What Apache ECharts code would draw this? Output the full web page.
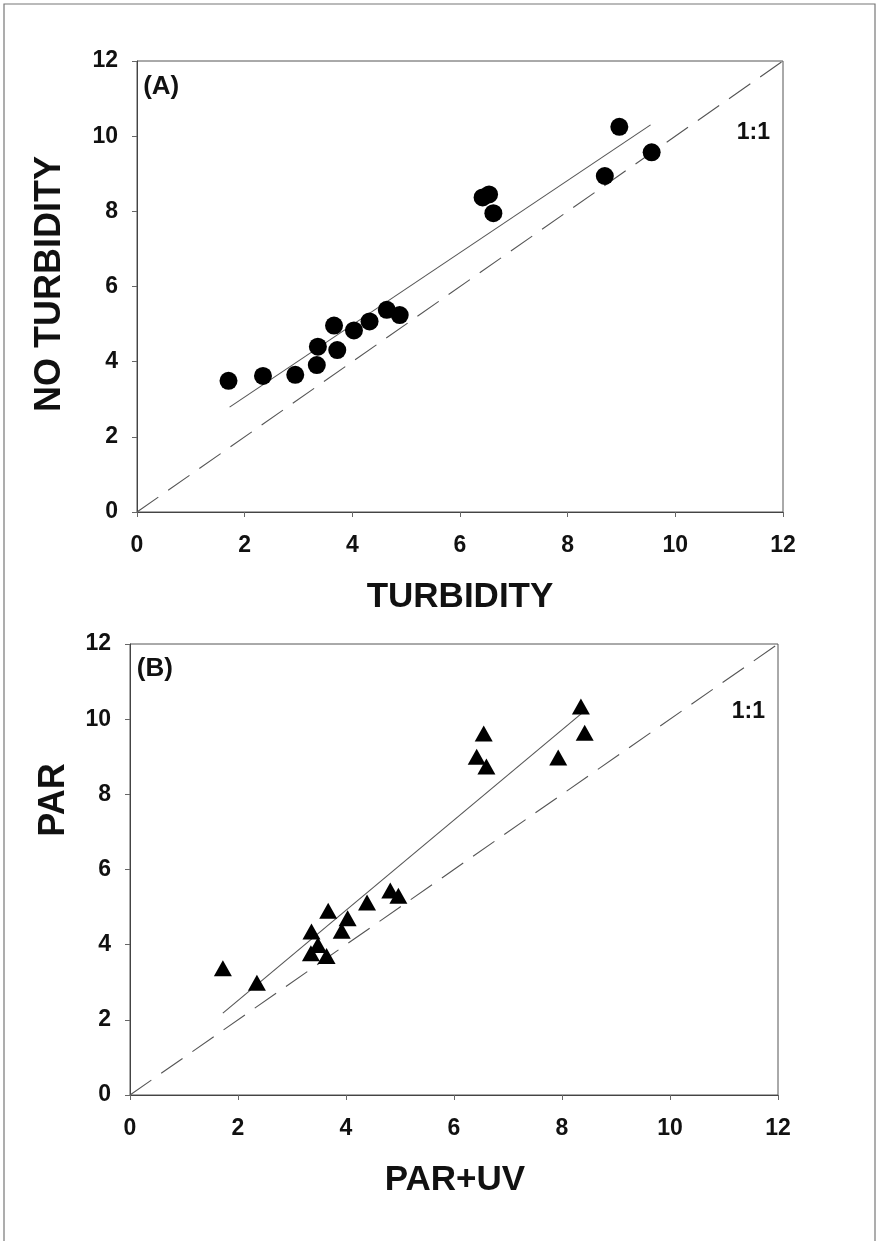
<!DOCTYPE html>
<html>
<head>
<meta charset="utf-8">
<script src="https://cdn.jsdelivr.net/npm/echarts@6/dist/echarts.min.js"></script>
<style>
html,body{margin:0;padding:0;background:#fff;}
#c{width:879px;height:1241px;}
</style>
</head>
<body>
<div id="c"></div>
<script>
// Panel A: TURBIDITY (x) vs NO TURBIDITY (y)
const turbidityX   = [1.70, 2.34, 2.94, 3.34, 3.36, 3.72, 3.66, 4.03, 4.32, 4.64, 4.88, 6.42, 6.54, 6.62, 8.69, 8.96, 9.56];
const noTurbidityY = [3.49, 3.62, 3.65, 3.91, 4.40, 4.31, 4.96, 4.83, 5.07, 5.38, 5.24, 8.37, 8.45, 7.95, 8.94, 10.25, 9.57];
const regressionA  = [[1.72, 2.79], [9.54, 10.30]];

// Panel B: PAR+UV (x) vs PAR (y)
const parUvX = [1.72, 2.35, 3.36, 3.48, 3.35, 3.64, 3.67, 3.92, 4.03, 4.39, 4.82, 4.97, 6.42, 6.55, 6.60, 7.93, 8.35, 8.42];
const parY   = [3.37, 2.99, 4.35, 3.99, 3.77, 3.70, 4.90, 4.37, 4.70, 5.12, 5.44, 5.30, 9.00, 9.62, 8.74, 8.98, 10.34, 9.64];
const regressionB = [[1.72, 2.18], [8.37, 10.16]];

const oneToOne = [[0, 0], [12, 12]];
const axisMin = 0, axisMax = 12, axisStep = 2;

const panelLabels = ['(A)', '(B)'];
const ratioLabel = '1:1';
const xTitles = ['TURBIDITY', 'PAR+UV'];
const yTitles = ['NO TURBIDITY', 'PAR'];

const FONT = "'Liberation Sans', Arial, Helvetica, sans-serif";
const chart = echarts.init(document.getElementById('c'), null, {renderer: 'canvas'});

function axisCommon(){
  return {
    type: 'value', min: axisMin, max: axisMax, interval: axisStep,
    axisLine: {show: true, lineStyle: {color: '#444', width: 1}},
    axisTick: {show: true, inside: false, length: 5, lineStyle: {color: '#666'}},
    splitLine: {show: false},
    axisLabel: {fontFamily: FONT, fontWeight: 'bold', fontSize: 23, color: '#111'}
  };
}
function xAx(i){ const a = axisCommon(); a.gridIndex = i; a.axisLabel.margin = 22; return a; }
function yAx(i){ const a = axisCommon(); a.gridIndex = i; a.axisLabel.margin = 19; return a; }

const zipA = turbidityX.map((x, i) => [x, noTurbidityY[i]]);
const zipB = parUvX.map((x, i) => [x, parY[i]]);

const lineStyleReg = {color: '#555', width: 1.1};
const lineStyleOne = {color: '#555', width: 1.1, type: [26, 12]};
const markStyle = {color: '#000', opacity: 1};

const option = {
  animation: false,
  backgroundColor: '#fff',
  grid: [
    {left: 137, top: 61, width: 646, height: 451, show: true, borderColor: '#555', borderWidth: 1},
    {left: 130, top: 644, width: 648, height: 451, show: true, borderColor: '#555', borderWidth: 1}
  ],
  xAxis: [xAx(0), xAx(1)],
  yAxis: [yAx(0), yAx(1)],
  series: [
    {type: 'line', xAxisIndex: 0, yAxisIndex: 0, data: oneToOne, symbol: 'none', lineStyle: lineStyleOne, z: 1},
    {type: 'line', xAxisIndex: 0, yAxisIndex: 0, data: regressionA, symbol: 'none', lineStyle: lineStyleReg, z: 1},
    {type: 'scatter', xAxisIndex: 0, yAxisIndex: 0, data: zipA, symbol: 'circle', symbolSize: 18, itemStyle: markStyle, z: 3},
    {type: 'line', xAxisIndex: 1, yAxisIndex: 1, data: oneToOne, symbol: 'none', lineStyle: lineStyleOne, z: 1},
    {type: 'line', xAxisIndex: 1, yAxisIndex: 1, data: regressionB, symbol: 'none', lineStyle: lineStyleReg, z: 1},
    {type: 'scatter', xAxisIndex: 1, yAxisIndex: 1, data: zipB, symbol: 'triangle', symbolSize: [18, 16], itemStyle: markStyle, z: 3}
  ]
};
chart.setOption(option);

function px(gi, pt){ return chart.convertToPixel({gridIndex: gi}, pt); }
const boldText = (x, y, text, size, extra) => Object.assign({
  type: 'text', x: x, y: y,
  style: {text: text, fontFamily: FONT, fontWeight: 'bold', fontSize: size, fill: '#111', align: 'center', verticalAlign: 'middle'}
}, extra || {});

const pA = px(0, [0.45, 11.3]), pB = px(1, [0.46, 11.35]);
const rA = px(0, [11.45, 10.1]), rB = px(1, [11.45, 10.2]);
const graphics = [
  {type: 'polyline', shape: {points: [[4, 1241], [4, 4], [875, 4], [875, 1241]]}, style: {stroke: '#777', lineWidth: 1.2, fill: null}},
  boldText(pA[0], pA[1], panelLabels[0], 26),
  boldText(pB[0], pB[1], panelLabels[1], 26),
  boldText(rA[0], rA[1], ratioLabel, 23),
  boldText(rB[0], rB[1], ratioLabel, 23),
  boldText(460, 597, xTitles[0], 35),
  boldText(455, 1180, xTitles[1], 35),
  boldText(50, 284, yTitles[0], 36, {rotation: Math.PI / 2}),
  boldText(54, 800, yTitles[1], 36, {rotation: Math.PI / 2})
];
chart.setOption({graphic: graphics});
</script>
</body>
</html>
